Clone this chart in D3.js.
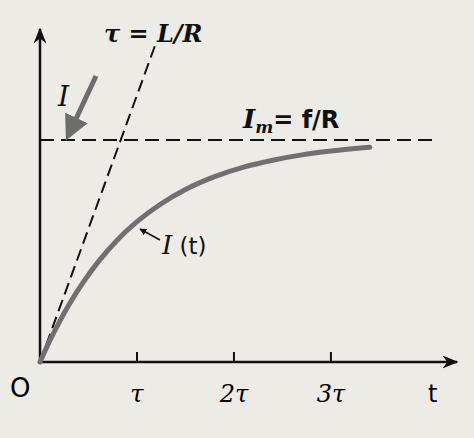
<!DOCTYPE html>
<html>
<head>
<meta charset="utf-8">
<script src="https://d3js.org/d3.v7.min.js"></script>
<style>
  body { margin: 0; background: #ecebe6; }
  svg { font-family: "DejaVu Serif", serif; }
</style>
</head>
<body>
<script>
// data (units: t in tau, I in Im)
var tickValues = [1, 2, 3];
var tickLabels = ["τ", "2τ", "3τ"];
var curveT = [0, 0.1, 0.2, 0.3, 0.45, 0.6, 0.8, 1.0, 1.25, 1.5, 1.8, 2.1, 2.4, 2.7, 3.0, 3.4];
var curveI = [0, 0.095, 0.181, 0.259, 0.362, 0.451, 0.551, 0.632, 0.713, 0.777, 0.835, 0.878, 0.909, 0.933, 0.950, 0.967];
var tangentT = [0, 1.19];
var tangentI = [0, 1.43];
var asymptote = 1;

var W = 474, H = 438;
var x = d3.scaleLinear().domain([0, 4.3]).range([40, 457]);
var y = d3.scaleLinear().domain([0, 1.5]).range([362, 29]);

var svg = d3.select("body").append("svg").attr("width", W).attr("height", H);
svg.append("rect").attr("width", W).attr("height", H).attr("fill", "#ecebe6");

var defs = svg.append("defs");
defs.append("marker").attr("id", "ah").attr("viewBox", "0 0 10 10")
  .attr("refX", 9).attr("refY", 5).attr("markerWidth", 7).attr("markerHeight", 7)
  .attr("markerUnits", "userSpaceOnUse").attr("orient", "auto")
  .append("path").attr("d", "M0,0 L10,5 L0,10 z").attr("fill", "#111");
defs.append("marker").attr("id", "axh").attr("viewBox", "0 0 10 10")
  .attr("refX", 9).attr("refY", 5).attr("markerWidth", 16).attr("markerHeight", 16)
  .attr("markerUnits", "userSpaceOnUse").attr("orient", "auto")
  .append("path").attr("d", "M0,1 L10,5 L0,9 L3,5 z").attr("fill", "#111");
defs.append("marker").attr("id", "gh").attr("viewBox", "0 0 10 10")
  .attr("refX", 8).attr("refY", 5).attr("markerWidth", 5).attr("markerHeight", 5)
  .attr("orient", "auto")
  .append("path").attr("d", "M0,0 L10,5 L0,10 z").attr("fill", "#6d6d6d");

// axes
svg.append("line").attr("x1", x(0)).attr("y1", y(0)).attr("x2", x(4.3)).attr("y2", y(0))
  .attr("stroke", "#111").attr("stroke-width", 2.5).attr("marker-end", "url(#axh)");
svg.append("line").attr("x1", x(0)).attr("y1", y(0)).attr("x2", x(0)).attr("y2", y(1.5))
  .attr("stroke", "#111").attr("stroke-width", 2.5).attr("marker-end", "url(#axh)");

svg.selectAll(".tick").data(tickValues).enter().append("line")
  .attr("x1", d => x(d)).attr("x2", d => x(d))
  .attr("y1", y(0)).attr("y2", y(0) - 10)
  .attr("stroke", "#111").attr("stroke-width", 2);
svg.selectAll(".tl").data(tickValues).enter().append("text")
  .attr("x", d => x(d)).attr("y", 402).attr("text-anchor", "middle")
  .attr("font-size", 24).attr("font-style", "italic")
  .text((d, i) => tickLabels[i]);

// asymptote
svg.append("line").attr("x1", x(0)).attr("x2", x(4.1))
  .attr("y1", y(asymptote)).attr("y2", y(asymptote))
  .attr("stroke", "#111").attr("stroke-width", 2).attr("stroke-dasharray", "14,7");

// tangent
svg.append("line").attr("x1", x(tangentT[0])).attr("y1", y(tangentI[0]))
  .attr("x2", x(tangentT[1])).attr("y2", y(tangentI[1]))
  .attr("stroke", "#111").attr("stroke-width", 2).attr("stroke-dasharray", "12,6");

// curve
svg.append("path").datum(curveT.map((t, i) => [t, curveI[i]]))
  .attr("d", d3.line().x(d => x(d[0])).y(d => y(d[1])).curve(d3.curveMonotoneX))
  .attr("fill", "none").attr("stroke", "#707070").attr("stroke-width", 5)
  .attr("stroke-linecap", "round");

// gray pointer arrow
svg.append("line").attr("x1", 96).attr("y1", 76).attr("x2", 68).attr("y2", 136)
  .attr("stroke", "#6d6d6d").attr("stroke-width", 5).attr("marker-end", "url(#gh)");

// I(t) pointer
svg.append("line").attr("x1", 160).attr("y1", 240).attr("x2", 140).attr("y2", 229)
  .attr("stroke", "#111").attr("stroke-width", 1.5).attr("marker-end", "url(#ah)");

// labels
function txt(xx, yy, s, size, it) {
  return svg.append("text").attr("x", xx).attr("y", yy).attr("font-size", size)
    .attr("font-style", it ? "italic" : "normal").attr("fill", "#111").text(s);
}
txt(58, 106, "I", 28, true);
txt(104, 42, "τ = L/R", 24, true).attr("font-weight", "bold");
var im = txt(243, 128, "I", 26, true).attr("font-weight", "bold");
im.append("tspan").attr("font-size", 17).attr("dy", 5).text("m");
im.append("tspan").attr("dy", -5).attr("font-style", "normal").attr("font-family", "DejaVu Sans").attr("font-size", 24).text("= f/R");
var it = txt(162, 254, "I", 26, true);
it.append("tspan").attr("font-style", "normal").attr("font-family", "DejaVu Sans").attr("font-size", 23).text(" (t)");
svg.append("text").attr("x", 10).attr("y", 397).attr("font-size", 26)
  .attr("font-family", "DejaVu Sans").text("O");
svg.append("text").attr("x", 428).attr("y", 402).attr("font-size", 24)
  .attr("font-family", "DejaVu Sans").text("t");
</script>
</body>
</html>
